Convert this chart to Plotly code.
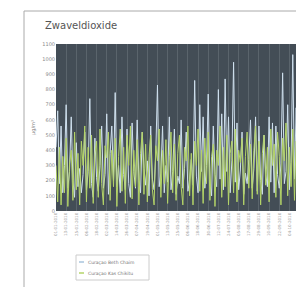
import plotly.graph_objects as go
import pandas as pd

start_date = "2010-01-01"
step_days = 2

beth_chaim = [420,660,180,560,120,300,700,150,260,620,200,90,450,160,280,120,240,520,140,260,
              740,180,90,480,220,130,300,560,150,240,640,110,380,560,200,780,160,300,120,620,
              240,140,540,180,90,580,260,150,600,200,120,520,280,170,330,100,560,210,140,380,
              830,160,250,560,120,300,190,620,140,260,540,110,230,180,600,150,280,520,130,210,
              340,170,860,230,120,700,260,620,150,300,770,180,100,560,240,160,800,210,640,140,
              870,260,620,120,330,980,190,580,140,270,520,110,250,180,340,600,150,280,620,130,
              560,200,110,500,240,160,620,190,580,120,560,240,150,310,910,180,260,700,140,320,
              1030,210,680,150,780,230,120,560,190,450]

kas_chikitu = [300,60,420,40,360,120,480,30,310,400,70,520,140,380,40,460,300,560,60,420,
               150,500,50,380,460,90,540,180,40,430,350,520,70,400,160,480,30,360,540,130,
               420,50,500,300,560,80,400,160,470,40,380,520,110,440,60,360,500,140,40,430,
               330,540,90,400,180,470,50,360,520,120,440,70,380,500,160,40,420,330,560,100,
               380,40,460,300,540,130,400,50,480,180,520,70,360,440,30,400,300,560,90,420,
               160,500,40,380,460,120,540,60,400,320,480,40,360,520,150,440,80,400,560,110,
               460,40,380,500,170,420,60,540,300,440,90,520,360,40,480,330,580,100,420,160,
               540,70,460,310,500,50,400,180,520,340]

series_names = ["Curaçao Beth Chaim", "Curaçao Kas Chikitu"]
series_colors = ["#cfe0ee", "#b4d468"]
y_ticks = [0, 100, 200, 300, 400, 500, 600, 700, 800, 900, 1000, 1100]

dates = pd.date_range(start_date, periods=len(beth_chaim), freq=f"{step_days}D")

fig = go.Figure()
fig.add_trace(go.Scatter(x=dates, y=beth_chaim, mode="lines", name=series_names[0],
                         line=dict(color=series_colors[0], width=1)))
fig.add_trace(go.Scatter(x=dates, y=kas_chikitu, mode="lines", name=series_names[1],
                         line=dict(color=series_colors[1], width=1)))

W, H = 304, 287
L, R, T, B = 48, 4, 36, 84
pw, ph = W - L - R, H - T - B

def px(x):
    return (x - L) / pw

def py(y):
    return 1 - (y - T) / ph

shapes = [dict(type="rect", xref="paper", yref="paper",
               x0=px(16), x1=px(303), y0=py(284), y1=py(3),
               line=dict(color="#aaaaaa", width=1), layer="below"),
          dict(type="rect", xref="paper", yref="paper",
               x0=px(68), x1=px(141), y0=py(272), y1=py(247),
               line=dict(color="#cccccc", width=1), fillcolor="white")]
annotations = []
for i, (name, col) in enumerate(zip(series_names, series_colors)):
    yy = 254 + i * 11
    shapes.append(dict(type="line", xref="paper", yref="paper",
                       x0=px(71), x1=px(76), y0=py(yy), y1=py(yy),
                       line=dict(color=col if i else "#a9c4dc", width=1.5)))
    annotations.append(dict(text=name, xref="paper", yref="paper", x=px(78), y=py(yy),
                            xanchor="left", yanchor="middle", showarrow=False,
                            font=dict(size=4.5, color="#777777")))

fig.update_layout(
    width=W, height=H,
    margin=dict(l=L, r=R, t=T, b=B),
    paper_bgcolor="white",
    plot_bgcolor="#434d56",
    font=dict(family="DejaVu Sans", size=5, color="#888888"),
    title=dict(text="Zwaveldioxide", x=37 / W, xref="container", xanchor="left",
               y=1 - 17 / H, yanchor="middle",
               font=dict(family="DejaVu Sans", size=10, color="#555555")),
    showlegend=False,
    xaxis=dict(type="date", tickformat="%d-%m-%Y", dtick=12 * 86400000,
               tick0=start_date, tickangle=-90, showgrid=True,
               gridcolor="#5a646c", gridwidth=1, zeroline=False,
               tickfont=dict(size=4, color="#999999"), ticks="",
               range=[dates[0], dates[-1]]),
    yaxis=dict(range=[0, 1100], tickvals=y_ticks, showgrid=False, zeroline=False,
               tickfont=dict(size=5, color="#888888"), ticks="",
               title=dict(text="µg/m³", font=dict(size=5, color="#888888"), standoff=6)),
    shapes=shapes,
    annotations=annotations,
)

fig.write_html("out.html")
